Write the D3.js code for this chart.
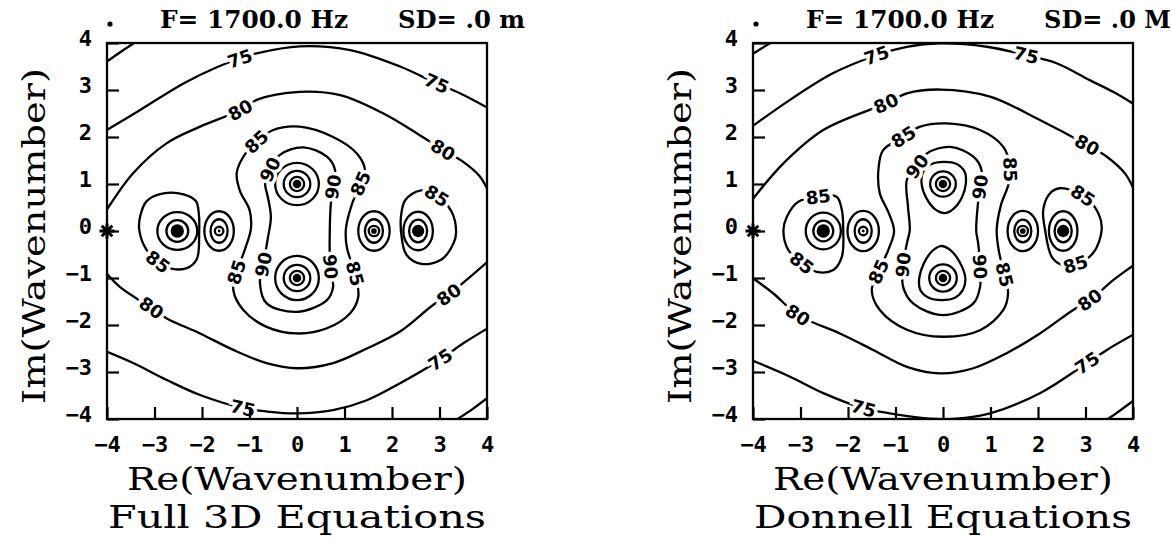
<!DOCTYPE html>
<html>
<head>
<meta charset="utf-8">
<script src="https://cdn.jsdelivr.net/npm/d3@7"></script>
<style>
  body { margin: 0; background: #fff; }
  svg { display: block; }
</style>
</head>
<body>
<svg id="chart" width="1172" height="546"></svg>
<script>
// ---------- axis ticks and text ----------
const reTicks = [-4, -3, -2, -1, 0, 1, 2, 3, 4];
const imTicks = [-4, -3, -2, -1, 0, 1, 2, 3, 4];
const tickText = ["\u22124", "\u22123", "\u22122", "\u22121", "0", "1", "2", "3", "4"];
const freqText = "F=  1700.0 Hz";
const depthText = ["SD= .0 m", "SD= .0 M"];
const panelNames = ["Full 3D Equations", "Donnell Equations"];
const reTitle = "Re(Wavenumber)";
const imTitle = "Im(Wavenumber)";

// ---------- Full 3D equations: contour traces [Re, Im] ----------
const full70 = [
  [[-4.05, 3.57], [-3.7, 3.82], [-3.35, 4.05]],
  [[3.3, -4.05], [3.68, -3.8], [4.05, -3.52]]
];
const full75 = [
  [[-4.05, 2.12], [-3.31, 2.57], [-2.39, 3.14], [-1.7, 3.48], [-1.2, 3.67], [-0.85, 3.78], [0.06, 3.93], [1.12, 3.85], [2.17, 3.5], [2.94, 3.14], [3.43, 2.93], [4.05, 2.6]],
  [[-4.05, -2.55], [-3.45, -2.81], [-2.74, -3.17], [-2.04, -3.49], [-1.13, -3.77], [-0.64, -3.84], [0.0, -3.88], [0.76, -3.81], [1.47, -3.6], [2.17, -3.24], [3.01, -2.74], [3.5, -2.39], [4.05, -2.05]]
];
const full80 = [
  [[-4.05, 0.38], [-3.45, 1.23], [-2.74, 1.87], [-2.04, 2.22], [-1.2, 2.57], [-0.85, 2.79], [0.06, 2.96], [0.91, 2.89], [1.82, 2.5], [2.52, 2.08], [3.08, 1.72], [3.5, 1.47], [3.85, 1.16], [4.05, 0.8]],
  [[-4.05, -0.85], [-3.73, -1.19], [-3.06, -1.64], [-2.74, -1.86], [-2.04, -2.18], [-1.34, -2.53], [-0.64, -2.81], [0.0, -2.92], [0.76, -2.81], [1.47, -2.5], [2.17, -2.14], [2.87, -1.57], [3.19, -1.36], [3.57, -1.04], [4.05, -0.62]]
];
const full85 = [
  [[0.06, 2.22], [0.76, 2.0], [1.26, 1.65], [1.43, 1.3], [1.33, 1.0], [1.15, 0.55], [1.03, 0.05], [1.05, -0.35], [1.22, -0.9], [1.29, -1.4], [1.12, -1.75], [0.63, -2.07], [0.0, -2.18], [-0.64, -2.04], [-1.13, -1.68], [-1.34, -1.26], [-1.27, -0.87], [-1.1, -0.4], [-0.97, 0.05], [-1.0, 0.45], [-1.2, 0.85], [-1.27, 1.23], [-1.13, 1.58], [-0.85, 1.9], [-0.5, 2.15]],
  [[-3.32, 0.02], [-3.3, 0.32], [-3.16, 0.64], [-2.81, 0.8], [-2.39, 0.78], [-2.13, 0.64], [-2.07, 0.4], [-2.06, -0.05], [-2.11, -0.6], [-2.32, -0.79], [-2.64, -0.8], [-2.92, -0.66], [-3.18, -0.38]],
  [[3.35, -0.02], [3.3, -0.25], [3.05, -0.6], [2.62, -0.7], [2.3, -0.5], [2.2, -0.1], [2.19, 0.32], [2.28, 0.66], [2.59, 0.86], [2.94, 0.75], [3.25, 0.42]]
];
const full90 = [
  [[0.13, 1.78], [0.63, 1.58], [0.8, 1.3], [0.76, 0.94], [0.71, 0.55], [0.69, 0.0], [0.69, -0.5], [0.72, -0.9], [0.76, -1.19], [0.63, -1.47], [0.0, -1.72], [-0.64, -1.54], [-0.78, -1.11], [-0.71, -0.72], [-0.62, -0.19], [-0.55, 0.3], [-0.62, 0.75], [-0.67, 1.0], [-0.57, 1.3], [-0.36, 1.62]]
];
const full95 = [];
// poles: centre, ring half-widths [rx, ry] and filled core radius (wavenumber units)
const fullPoles = [
  { re: -2.52, im: 0.0, rings: [[0.42, 0.40], [0.23, 0.23]], core: 0.14 },
  { re: -1.64, im: 0.0, rings: [[0.31, 0.42], [0.18, 0.25], [0.09, 0.09]], core: 0.03 },
  { re: 0.0, im: 1.0, rings: [[0.46, 0.45], [0.28, 0.28], [0.15, 0.15]], core: 0.09 },
  { re: 0.0, im: -1.0, rings: [[0.46, 0.47], [0.28, 0.28], [0.15, 0.15]], core: 0.09 },
  { re: 1.62, im: 0.0, rings: [[0.33, 0.42], [0.19, 0.25], [0.11, 0.11]], core: 0.06 },
  { re: 2.55, im: 0.0, rings: [[0.31, 0.41], [0.19, 0.24]], core: 0.13 }
];
// contour labels: [level, Re, Im]
const fullLabels = [
  [75, -1.2, 3.67], [75, 2.94, 3.14], [80, -1.2, 2.57], [80, 3.08, 1.72],
  [85, -0.85, 1.9], [90, -0.57, 1.3], [90, 0.76, 0.94], [85, 1.33, 1.01],
  [85, -2.92, -0.66], [85, 2.94, 0.75], [85, -1.27, -0.87], [90, -0.71, -0.72],
  [90, 0.69, -0.76], [85, 1.22, -0.9], [80, -3.06, -1.64], [80, 3.19, -1.36],
  [75, -1.13, -3.77], [75, 3.01, -2.74]
];

// ---------- Donnell equations: contour traces [Re, Im] ----------
const don70 = [
  [[-4.05, 3.74], [-3.8, 3.9], [-3.55, 4.05]],
  [[3.4, -4.05], [3.7, -3.84], [4.05, -3.58]]
];
const don75 = [
  [[-4.05, 2.2], [-3.22, 2.79], [-2.31, 3.36], [-1.4, 3.74], [-0.76, 3.92], [-0.06, 3.99], [0.92, 3.92], [1.76, 3.74], [2.39, 3.57], [3.09, 3.21], [3.6, 2.95], [4.05, 2.68]],
  [[-4.05, -2.74], [-3.22, -3.1], [-2.52, -3.45], [-1.68, -3.77], [-1.12, -3.88], [-0.41, -3.98], [0.2, -4.0], [0.99, -3.88], [2.04, -3.45], [3.03, -2.81], [3.45, -2.53], [4.05, -2.18]]
];
const don80 = [
  [[-4.05, 0.62], [-3.36, 1.44], [-2.52, 2.15], [-1.19, 2.72], [-0.76, 2.93], [-0.06, 3.01], [0.99, 2.86], [2.04, 2.36], [3.03, 1.83], [3.45, 1.58], [3.85, 1.2], [4.05, 0.8]],
  [[-4.05, -0.97], [-3.57, -1.33], [-3.05, -1.79], [-2.17, -2.18], [-1.47, -2.53], [-0.76, -2.89], [-0.06, -3.03], [0.64, -2.92], [1.34, -2.6], [2.04, -2.18], [2.74, -1.68], [3.09, -1.47], [3.59, -1.04], [4.05, -0.7]]
];
const don85 = [
  [[0.08, 2.29], [0.78, 2.15], [1.27, 1.79], [1.41, 1.37], [1.38, 1.0], [1.22, 0.55], [1.13, 0.02], [1.18, -0.45], [1.3, -0.94], [1.37, -1.33], [1.27, -1.68], [0.78, -2.11], [0.0, -2.25], [-0.76, -2.1], [-1.33, -1.68], [-1.5, -1.26], [-1.36, -0.87], [-1.15, -0.4], [-1.03, 0.0], [-1.15, 0.4], [-1.33, 0.8], [-1.36, 1.3], [-1.26, 1.72], [-0.84, 2.0], [-0.48, 2.22]],
  [[-3.36, 0.02], [-3.29, 0.3], [-3.05, 0.62], [-2.62, 0.73], [-2.24, 0.73], [-2.13, 0.45], [-2.1, 0.02], [-2.13, -0.55], [-2.31, -0.83], [-2.66, -0.87], [-2.97, -0.68], [-3.26, -0.4]],
  [[2.15, 0.02], [2.29, -0.55], [2.5, -0.72], [2.78, -0.71], [3.16, -0.47], [3.34, 0.02], [3.27, 0.38], [2.95, 0.75], [2.46, 0.91], [2.25, 0.8], [2.11, 0.45]]
];
const don90 = [
  [[0.15, 1.79], [0.64, 1.58], [0.81, 1.3], [0.78, 0.94], [0.73, 0.52], [0.7, 0.0], [0.74, -0.26], [0.78, -0.76], [0.78, -1.19], [0.64, -1.54], [0.0, -1.79], [-0.63, -1.54], [-0.84, -1.19], [-0.84, -0.72], [-0.76, -0.26], [-0.7, 0.02], [-0.74, 0.55], [-0.76, 1.09], [-0.55, 1.37], [-0.34, 1.65]]
];
const don95 = [
  [[0.02, 1.47], [0.3, 1.42], [0.46, 1.25], [0.48, 1.0], [0.4, 0.72], [0.22, 0.47], [0.05, 0.38], [-0.15, 0.45], [-0.35, 0.7], [-0.45, 1.0], [-0.42, 1.25], [-0.25, 1.42]],
  [[-0.02, -1.47], [-0.3, -1.42], [-0.48, -1.25], [-0.5, -1.0], [-0.4, -0.68], [-0.22, -0.42], [-0.05, -0.32], [0.15, -0.4], [0.35, -0.66], [0.47, -1.0], [0.42, -1.25], [0.25, -1.42]]
];
const donPoles = [
  { re: -2.52, im: 0.0, rings: [[0.37, 0.39], [0.21, 0.22]], core: 0.14 },
  { re: -1.68, im: 0.0, rings: [[0.33, 0.43], [0.18, 0.25], [0.09, 0.09]], core: 0.03 },
  { re: 0.0, im: 1.0, rings: [[0.27, 0.27], [0.15, 0.15]], core: 0.09 },
  { re: 0.0, im: -1.0, rings: [[0.29, 0.29], [0.15, 0.15]], core: 0.09 },
  { re: 1.68, im: 0.0, rings: [[0.32, 0.43], [0.18, 0.24], [0.11, 0.11]], core: 0.06 },
  { re: 2.53, im: 0.0, rings: [[0.30, 0.42], [0.18, 0.24]], core: 0.13 }
];
const donLabels = [
  [75, -1.4, 3.74], [75, 1.76, 3.74], [80, -1.19, 2.72], [80, 3.03, 1.83],
  [85, -0.84, 2.0], [90, -0.55, 1.37], [90, 0.78, 0.94], [85, 1.41, 1.3],
  [85, -2.62, 0.73], [85, 2.95, 0.75], [85, -2.97, -0.68], [85, 2.78, -0.71],
  [85, -1.36, -0.87], [90, -0.84, -0.72], [90, 0.78, -0.76], [85, 1.3, -0.94],
  [80, -3.05, -1.79], [80, 3.09, -1.47], [75, -1.68, -3.77], [75, 3.03, -2.81]
];

// source marker on the left edge
const sourcePoint = [-4, 0];

// ---------- layout ----------
const W = 380, H = 376;
const panels = [
  { ox: 107, oy: 43, id: "full", depth: depthText[0], name: panelNames[0],
    levels: [[70, full70], [75, full75], [80, full80], [85, full85], [90, full90], [95, full95]],
    poles: fullPoles, labels: fullLabels },
  { ox: 753, oy: 43, id: "don", depth: depthText[1], name: panelNames[1],
    levels: [[70, don70], [75, don75], [80, don80], [85, don85], [90, don90], [95, don95]],
    poles: donPoles, labels: donLabels }
];

const svg = d3.select("#chart");
const x = d3.scaleLinear().domain([-4, 4]).range([0, W]);
const y = d3.scaleLinear().domain([-4, 4]).range([H, 0]);
const serif = "'DejaVu Serif', serif";
const boldMono = "'DejaVu Sans Mono', monospace";

panels.forEach(p => {
  const g = svg.append("g").attr("transform", `translate(${p.ox},${p.oy})`);

  g.append("clipPath").attr("id", `clip-${p.id}`)
    .append("rect").attr("width", W).attr("height", H);

  const plot = g.append("g").attr("clip-path", `url(#clip-${p.id})`);

  // contour traces
  const paths = [];
  p.levels.forEach(([level, lines]) => {
    lines.forEach(pts => {
      const open = Math.abs(pts[0][0]) > 4 || Math.abs(pts[0][1]) > 4;
      const line = d3.line()
        .x(d => x(d[0])).y(d => y(d[1]))
        .curve(open ? d3.curveCatmullRom.alpha(0.5) : d3.curveCatmullRomClosed.alpha(0.5));
      const path = plot.append("path")
        .attr("d", line(pts))
        .attr("fill", "none")
        .attr("stroke", "#000")
        .attr("stroke-width", 2.3)
        .attr("stroke-linejoin", "round");
      paths.push({ level, node: path.node() });
    });
  });

  // tight rings around each pole
  p.poles.forEach(pole => {
    const cx = x(pole.re), cy = y(pole.im);
    pole.rings.forEach(([rx, ry]) => {
      plot.append("ellipse")
        .attr("cx", cx).attr("cy", cy)
        .attr("rx", x(rx) - x(0)).attr("ry", y(0) - y(ry))
        .attr("fill", "none").attr("stroke", "#000").attr("stroke-width", 2.3);
    });
    plot.append("circle")
      .attr("cx", cx).attr("cy", cy)
      .attr("r", x(pole.core) - x(0))
      .attr("fill", "#000");
  });

  // contour labels, snapped onto their trace and turned along it
  p.labels.forEach(([level, re, im]) => {
    const px = x(re), py = y(im);
    let best = null;
    paths.filter(c => c.level === level).forEach(c => {
      const len = c.node.getTotalLength();
      for (let s = 0; s <= len; s += 1) {
        const pt = c.node.getPointAtLength(s);
        const d = (pt.x - px) ** 2 + (pt.y - py) ** 2;
        if (!best || d < best.d) best = { d, node: c.node, s, len };
      }
    });
    if (!best) return;
    const a = best.node.getPointAtLength(Math.max(0, best.s - 7));
    const b = best.node.getPointAtLength(Math.min(best.len, best.s + 7));
    let ang = Math.atan2(b.y - a.y, b.x - a.x) * 180 / Math.PI;
    if (ang > 90) ang -= 180;
    if (ang <= -90) ang += 180;
    const c = best.node.getPointAtLength(best.s);
    plot.append("text")
      .attr("transform", `translate(${c.x},${c.y}) rotate(${ang})`)
      .attr("text-anchor", "middle")
      .attr("dy", "0.36em")
      .attr("font-family", "'DejaVu Sans', sans-serif")
      .attr("font-weight", "bold")
      .attr("font-size", 18)
      .attr("stroke", "#fff").attr("stroke-width", 7)
      .attr("paint-order", "stroke")
      .attr("fill", "#000")
      .text(level);
  });

  // frame
  g.append("rect").attr("width", W).attr("height", H)
    .attr("fill", "none").attr("stroke", "#000").attr("stroke-width", 2.3);

  // axes with inward ticks
  const fmt = v => tickText[reTicks.indexOf(v)];
  const ax = g.append("g").attr("transform", `translate(0,${H})`)
    .call(d3.axisBottom(x).tickValues(reTicks).tickSize(-12).tickPadding(17).tickFormat(fmt));
  const ay = g.append("g")
    .call(d3.axisLeft(y).tickValues(imTicks).tickSize(-12).tickPadding(15).tickFormat(fmt));
  [ax, ay].forEach(a => {
    a.select(".domain").remove();
    a.selectAll(".tick line").attr("stroke", "#000").attr("stroke-width", 2.2);
    a.selectAll(".tick text")
      .attr("fill", "#000")
      .attr("font-family", boldMono)
      .attr("font-weight", "bold")
      .attr("font-size", 22);
  });
  ay.selectAll(".tick text").attr("dy", "0.1em");
  ax.selectAll(".tick text").attr("dy", "0.71em");

  // source marker (asterisk)
  const sx = x(sourcePoint[0]), sy = y(sourcePoint[1]);
  const star = d3.path();
  for (let k = 0; k < 4; k++) {
    const t = k * Math.PI / 4, r = 7.5;
    star.moveTo(sx - r * Math.cos(t), sy - r * Math.sin(t));
    star.lineTo(sx + r * Math.cos(t), sy + r * Math.sin(t));
  }
  g.append("path").attr("d", star.toString())
    .attr("stroke", "#000").attr("stroke-width", 3).attr("fill", "none");

  // heading line
  g.append("circle").attr("cx", 3).attr("cy", -19).attr("r", 2.6).attr("fill", "#000");
  g.append("text").attr("x", 53).attr("y", -15)
    .attr("font-family", serif).attr("font-weight", "bold").attr("font-size", 24)
    .attr("textLength", 188).attr("lengthAdjust", "spacingAndGlyphs")
    .text(freqText);
  g.append("text").attr("x", 291).attr("y", -15)
    .attr("font-family", serif).attr("font-weight", "bold").attr("font-size", 24)
    .attr("textLength", 127).attr("lengthAdjust", "spacingAndGlyphs")
    .text(p.depth);

  // axis titles and panel name
  g.append("text").attr("x", W / 2).attr("y", 447)
    .attr("text-anchor", "middle")
    .attr("font-family", serif).attr("font-size", 31)
    .attr("textLength", 340).attr("lengthAdjust", "spacingAndGlyphs")
    .text(reTitle);
  g.append("text").attr("transform", `translate(-62,${H / 2 + 5}) rotate(-90)`)
    .attr("text-anchor", "middle")
    .attr("font-family", serif).attr("font-size", 31)
    .attr("textLength", 336).attr("lengthAdjust", "spacingAndGlyphs")
    .text(imTitle);
  g.append("text").attr("x", W / 2).attr("y", 485)
    .attr("text-anchor", "middle")
    .attr("font-family", serif).attr("font-size", 31)
    .attr("textLength", 378).attr("lengthAdjust", "spacingAndGlyphs")
    .text(p.name);
});
</script>
</body>
</html>
